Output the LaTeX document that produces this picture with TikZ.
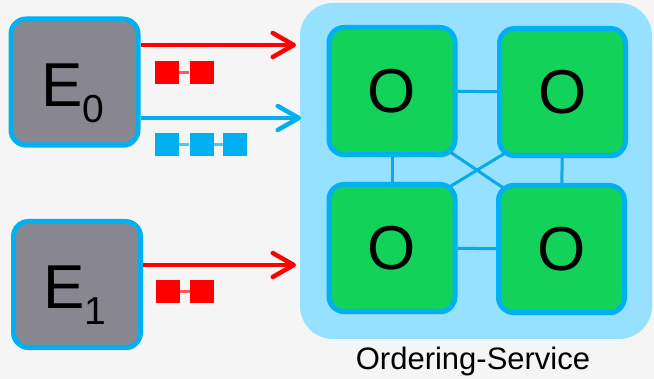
\documentclass[tikz,border=0pt]{standalone}
\usepackage{fontspec}
\setmainfont{Liberation Sans}
\usetikzlibrary{arrows.meta,shadows}

\definecolor{pagebg}{HTML}{F5F5F5}
\definecolor{edgeblue}{HTML}{00B0F0}
\definecolor{linkblue}{HTML}{0AAAE8}
\definecolor{endgrey}{HTML}{88878F}
\definecolor{ordgreen}{HTML}{12D25A}
\definecolor{svcblue}{HTML}{95E1FF}
\definecolor{txred}{HTML}{FF0000}
\definecolor{txredlink}{HTML}{FF5A5A}
\definecolor{txbluelink}{HTML}{4CC8F4}

\pgfdeclarelayer{back}
\pgfdeclarelayer{mid}
\pgfsetlayers{back,mid,main}

\begin{document}
\begin{tikzpicture}[x=1pt,y=-1pt,
  softshadow/.style={drop shadow={shadow xshift=1pt, shadow yshift=-3pt,
      fill=black, opacity=0.18}},
  endorser/.style={draw=edgeblue, line width=5pt, fill=endgrey,
      rounded corners=15pt, minimum width=127pt, minimum height=126pt,
      inner sep=0pt, softshadow},
  orderer/.style={draw=edgeblue, line width=5pt, fill=ordgreen,
      rounded corners=15pt, minimum width=126pt, minimum height=127pt,
      inner sep=0pt, font=\fontsize{62}{62}\selectfont, softshadow},
  bigletter/.style={anchor=base west, inner sep=0pt,
      font=\fontsize{62}{62}\selectfont},
  redblock/.style={fill=txred, minimum width=24pt, minimum height=23pt,
      inner sep=0pt},
  blueblock/.style={fill=edgeblue, minimum width=24pt, minimum height=23pt,
      inner sep=0pt},
  redlink/.style={draw=txredlink, line width=3pt},
  bluelink/.style={draw=txbluelink, line width=3pt},
  txarrow/.style={line width=4.5pt,
      -{Straight Barb[length=21pt, width=24pt, round]}},
  meshlink/.style={draw=linkblue, line width=3pt},
]

% page and ordering-service background
\begin{pgfonlayer}{back}
  \fill[pagebg] (0,0) rectangle (654,379);
  \fill[svcblue, rounded corners=33pt] (300,3) rectangle (652,339);
\end{pgfonlayer}
\useasboundingbox (0,0) rectangle (654,379);

% endorsing peers
\node[endorser] (e0) at (74.5,82) {};
\node[endorser] (e1) at (77,284.5) {};
\node[bigletter] (e0t) at (41,107)
  {E\raisebox{-16pt}{\fontsize{39}{39}\selectfont 0}};
\node[bigletter] (e1t) at (43,309)
  {E\raisebox{-16pt}{\fontsize{39}{39}\selectfont 1}};

% orderer nodes
\node[orderer] (tl) at (392,91) {O};
\node[orderer] (tr) at (562.5,92) {O};
\node[orderer] (bl) at (392,248) {O};
\node[orderer] (br) at (561.5,249) {O};

\node[anchor=base, inner sep=0pt, font=\fontsize{31}{31}\selectfont]
  (svclabel) at (473,370) {Ordering-Service};

% mesh between orderers
\begin{pgfonlayer}{mid}
  \draw[meshlink] (tl) -- (tr);
  \draw[meshlink] (bl) -- (br);
  \draw[meshlink] (tl) -- (bl);
  \draw[meshlink] (tr) -- (br);
  \draw[meshlink, shorten <=-8pt, shorten >=-8pt]
    (tl.south east) -- (br.north west);
  \draw[meshlink, shorten <=-8pt, shorten >=-8pt]
    (tr.south west) -- (bl.north east);
\end{pgfonlayer}

% transactions sent to the ordering service
\coordinate (tip0) at (296,45);
\coordinate (tip1) at (301,118);
\coordinate (tip2) at (296,265);
\draw[txarrow, draw=txred]  (e0.east |- tip0) -- (tip0);
\draw[txarrow, draw=edgeblue] (e0.east |- tip1) -- (tip1);
\draw[txarrow, draw=txred]  (e1.east |- tip2) -- (tip2);

% transaction block chains
\node[redblock] (ra1) at (167,72.5) {};
\node[redblock] (ra2) at (201.5,72.5) {};
\draw[redlink] (ra1) -- (ra2);

\node[blueblock] (ba1) at (167,145) {};
\node[blueblock] (ba2) at (201.5,145) {};
\node[blueblock] (ba3) at (235,145) {};
\draw[bluelink] (ba1) -- (ba2);
\draw[bluelink] (ba2) -- (ba3);

\node[redblock] (rb1) at (168,291.5) {};
\node[redblock] (rb2) at (202,291.5) {};
\draw[redlink] (rb1) -- (rb2);
\end{tikzpicture}
\end{document}
